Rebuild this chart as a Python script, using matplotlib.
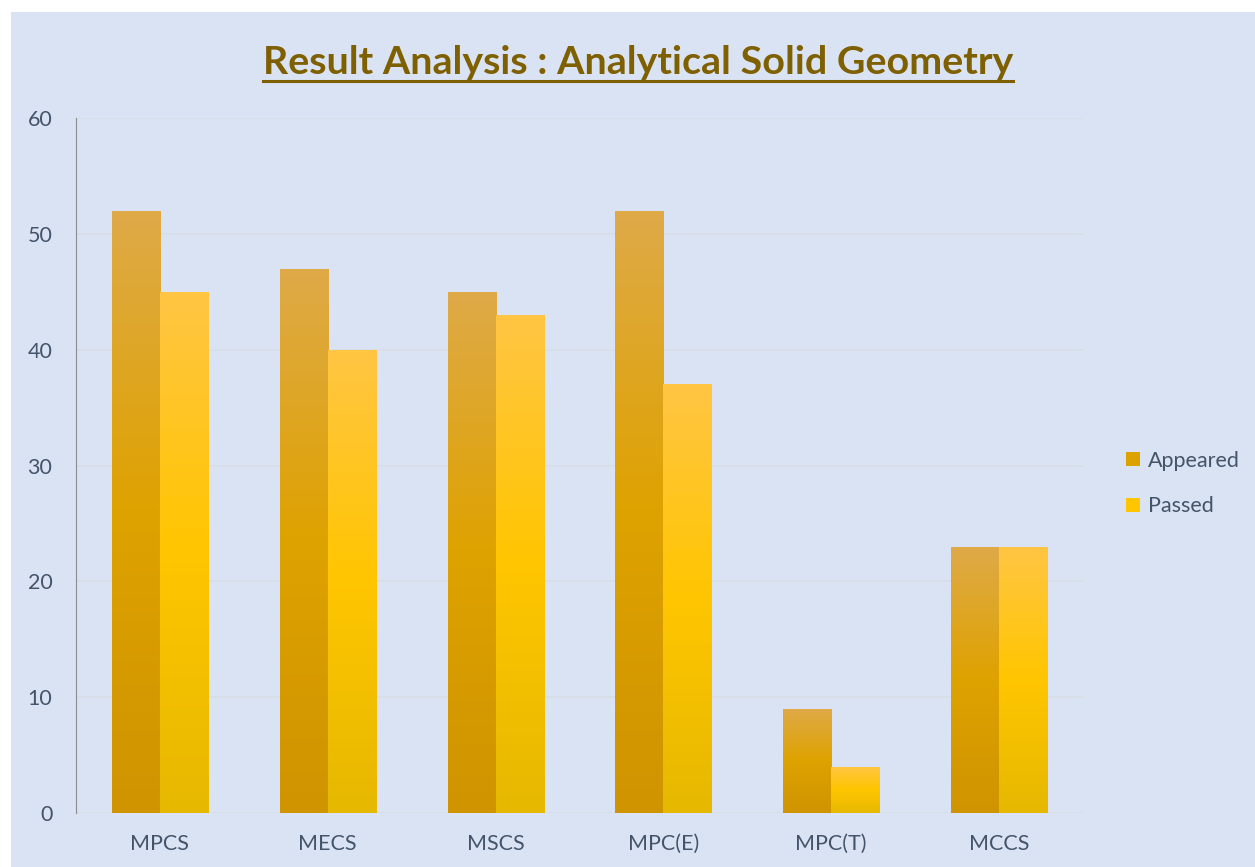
import numpy as np
import matplotlib.pyplot as plt
from matplotlib.colors import LinearSegmentedColormap
from matplotlib.patches import Rectangle, Patch
from matplotlib.lines import Line2D

# data
categories = ["MPCS", "MECS", "MSCS", "MPC(E)", "MPC(T)", "MCCS"]
appeared = [52, 47, 45, 52, 9, 23]
passed = [45, 40, 43, 37, 4, 23]
series_names = ["Appeared", "Passed"]

bg = "#dae3f3"
text_col = "#44546a"

plt.rcParams['font.family'] = ['Lato', 'DejaVu Sans']

fig = plt.figure(figsize=(12.55, 8.67), dpi=100)
fig.patch.set_facecolor("white")
# light blue panel behind everything
fig.patches.append(Rectangle((11 / 1255, 0), 1, 1 - 12 / 867, transform=fig.transFigure,
                             facecolor=bg, edgecolor="none", zorder=-5))

ax = fig.add_axes([76 / 1255, 1 - 813 / 867, (1083 - 76) / 1255, (813 - 118) / 867])
ax.patch.set_alpha(0)

# gradients (bottom -> top)
grad_app = LinearSegmentedColormap.from_list("app", ["#cf9400", "#dea200", "#dfaa48"])
grad_pas = LinearSegmentedColormap.from_list("pas", ["#e6b800", "#ffc600", "#ffc544"])

x = np.arange(len(categories))
w = 0.286
bars1 = ax.bar(x - w / 2, appeared, w, color="none", zorder=3)
bars2 = ax.bar(x + w / 2, passed, w, color="none", zorder=3)

grad = np.linspace(0, 1, 256).reshape(-1, 1)
for bars, cmap in [(bars1, grad_app), (bars2, grad_pas)]:
    for b in bars:
        x0, y0 = b.get_x(), b.get_y()
        im = ax.imshow(grad, cmap=cmap, origin="lower", aspect="auto",
                       extent=[x0, x0 + b.get_width(), y0, y0 + b.get_height()], zorder=3)
        im.set_clip_path(b)

ax.set_xlim(-0.5, len(categories) - 0.5)
ax.set_ylim(0, 60)
ax.set_yticks(range(0, 61, 10))
ax.set_xticks(x)
ax.set_xticklabels(categories)
ax.yaxis.grid(True, color="#d8dde6", linewidth=1.2, zorder=1)
ax.set_axisbelow(True)
for s in ["top", "right", "bottom"]:
    ax.spines[s].set_visible(False)
ax.spines["left"].set_color("#8c8c8c")
ax.spines["left"].set_bounds(0, 60)
ax.tick_params(axis="both", length=0, labelsize=15.5, labelcolor=text_col)
ax.tick_params(axis="y", pad=17)
ax.tick_params(axis="x", pad=15)

handles = [Patch(facecolor="#dea200", label=series_names[0]),
           Patch(facecolor="#ffc600", label=series_names[1])]
ax.legend(handles=handles, loc="center left", bbox_to_anchor=(1.023, 0.474), frameon=False,
          fontsize=15.5, labelcolor=text_col, handlelength=0.65, handleheight=0.65,
          handletextpad=0.4, labelspacing=1.2)

title = fig.text(638 / 1255, 1 - 62 / 867, "Result Analysis : Analytical Solid Geometry",
                 ha="center", va="center", fontsize=28.4, fontweight="bold", color="#7f6000")
fig.canvas.draw()
bb = title.get_window_extent().transformed(fig.transFigure.inverted())
fig.lines.append(Line2D([bb.x0, bb.x1], [bb.y0 - 0.002, bb.y0 - 0.002], transform=fig.transFigure,
                        color="#7f6000", linewidth=2.2))

fig.savefig("out.png", dpi=100, facecolor=fig.get_facecolor())
